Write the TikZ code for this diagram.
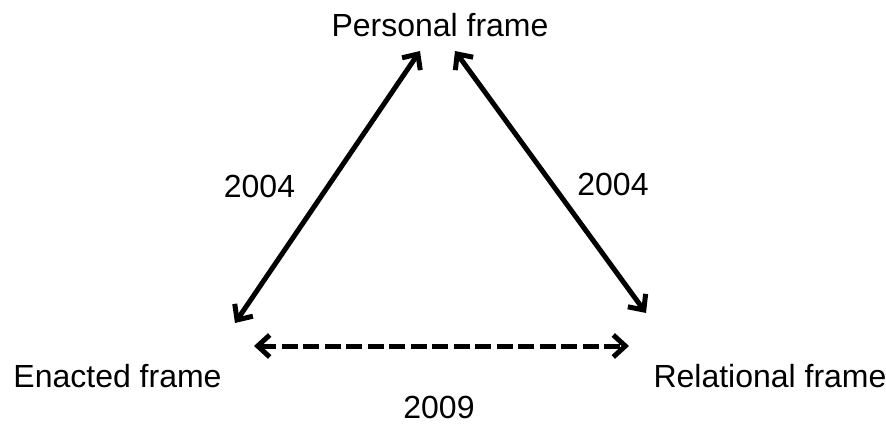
\documentclass[tikz,border=0pt]{standalone}
\usepackage{fontspec}
\setmainfont{Liberation Sans}
\usetikzlibrary{arrows.meta}
\begin{document}
\begin{tikzpicture}[x=1pt,y=-1pt,
  lbl/.style={font=\fontsize{32}{36}\selectfont, inner sep=0pt, anchor=base},
  conn/.style={line width=5pt, {Straight Barb[length=12pt,width=22pt,line width=5pt]}-{Straight Barb[length=12pt,width=22pt,line width=5pt]}},
  dconn/.style={conn, dash pattern=on 16pt off 5.5pt}]
\useasboundingbox (0,0) rectangle (886,425);
\node[lbl] (pers) at (440,37) {Personal frame};
\node[lbl] (enac) at (117.5,387) {Enacted frame};
\node[lbl] (rel) at (770,387) {Relational frame};
\node[lbl] (y09) at (439,418) {2009};
\node[lbl] (y04a) at (259.5,197) {2004};
\node[lbl] (y04b) at (613,195) {2004};
\coordinate (a1) at (420,51);
\coordinate (a2) at (235,323);
\coordinate (b1) at (455,51);
\coordinate (b2) at (646,313);
\coordinate (c1) at (254,346);
\coordinate (c2) at (629,346);
\draw[conn] (a1) -- (a2);
\draw[conn] (b1) -- (b2);
\draw[dconn] (c1) -- (c2);
\end{tikzpicture}
\end{document}
